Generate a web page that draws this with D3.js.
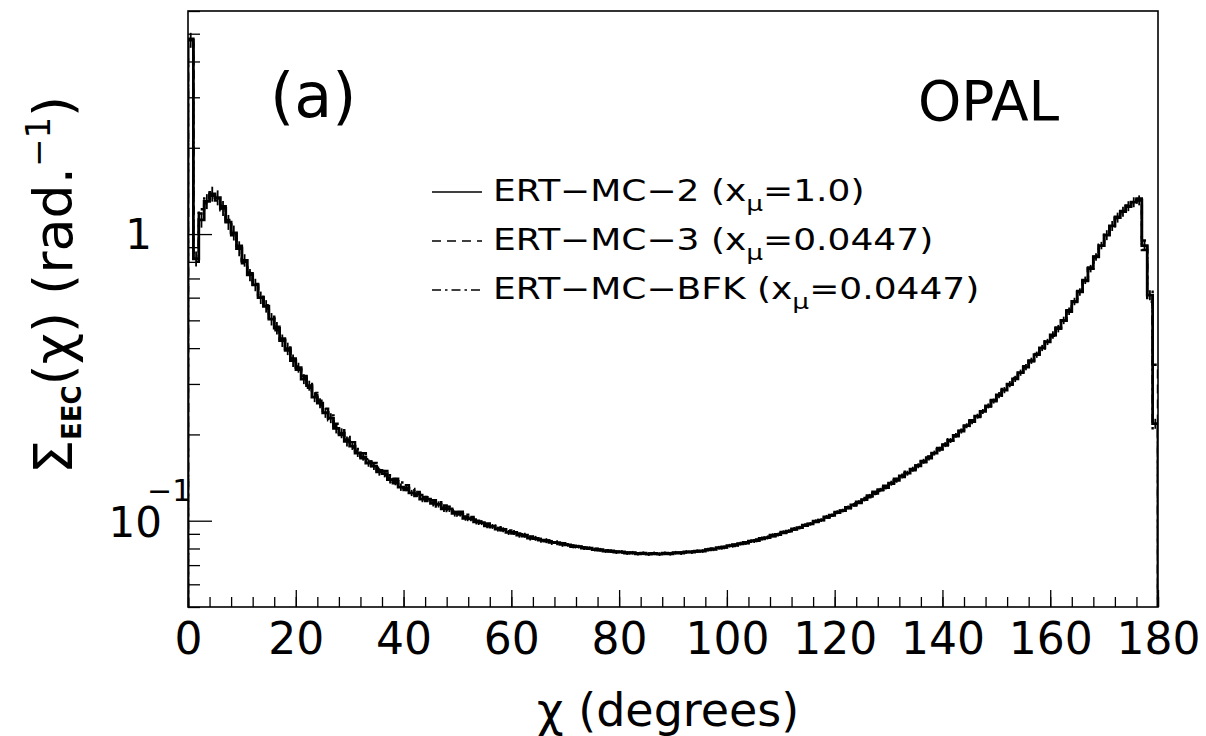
<!DOCTYPE html>
<html>
<head>
<meta charset="utf-8">
<script src="https://d3js.org/d3.v7.min.js"></script>
<style>
  body { margin: 0; background: #fff; }
  svg { display: block; font-family: "DejaVu Sans", sans-serif; }
</style>
</head>
<body>
<div id="chart"></div>
<script>
////////////////////////////// DATA ////////////////////////////////////

// EEC histograms, one value per 1 degree bin from chi = 0 to 180
const ertMc2 = [
  4.75, 0.82, 1.12, 1.30, 1.38, 1.34, 1.23, 1.10, 1.01, 0.89,
  0.81, 0.72, 0.665, 0.60, 0.56, 0.505, 0.47, 0.425, 0.398, 0.362,
  0.342, 0.312, 0.296, 0.270, 0.257, 0.238, 0.228, 0.210, 0.202, 0.189,
  0.182, 0.172, 0.167, 0.159, 0.155, 0.148, 0.146, 0.139, 0.137, 0.131,
  0.130, 0.125, 0.124, 0.119, 0.119, 0.115, 0.114, 0.110, 0.110, 0.106,
  0.1055, 0.102, 0.1015, 0.0990, 0.0985, 0.0960, 0.0955, 0.0935, 0.0930, 0.0910,
  0.0910, 0.0890, 0.0890, 0.0870, 0.0868, 0.0855, 0.0852, 0.0840, 0.0838, 0.0827,
  0.0824, 0.0813, 0.0812, 0.0802, 0.0802, 0.0793, 0.0792, 0.0784, 0.0784, 0.0777,
  0.0778, 0.0771, 0.0773, 0.0767, 0.0770, 0.0765, 0.0769, 0.0765, 0.0770, 0.0767,
  0.0773, 0.0771, 0.0778, 0.0777, 0.0783, 0.0784, 0.0793, 0.0795, 0.0805, 0.0807,
  0.0818, 0.0821, 0.0832, 0.0836, 0.0849, 0.0853, 0.0868, 0.0873, 0.0890, 0.0895,
  0.0912, 0.0920, 0.0937, 0.0946, 0.0965, 0.0975, 0.0996, 0.1005, 0.1032, 0.1045,
  0.1072, 0.1085, 0.1113, 0.1135, 0.1162, 0.1185, 0.1222, 0.1245, 0.1283, 0.1305,
  0.1352, 0.1384, 0.1433, 0.1465, 0.1513, 0.1555, 0.1612, 0.1655, 0.1722, 0.1775,
  0.1843, 0.1905, 0.1985, 0.2055, 0.2145, 0.2215, 0.2315, 0.2405, 0.2515, 0.2615,
  0.2745, 0.2855, 0.2995, 0.3125, 0.3285, 0.3435, 0.3615, 0.3795, 0.4005, 0.4205,
  0.4445, 0.468, 0.500, 0.538, 0.582, 0.628, 0.690, 0.758, 0.832, 0.912,
  0.992, 1.068, 1.142, 1.198, 1.252, 1.292, 1.312, 0.912, 0.612, 0.218
];

const ertMc3 = [
  4.70, 0.80, 1.18, 1.28, 1.40, 1.31, 1.25, 1.08, 1.02, 0.90,
  0.79, 0.735, 0.655, 0.61, 0.55, 0.515, 0.462, 0.432, 0.392, 0.368,
  0.336, 0.318, 0.291, 0.275, 0.253, 0.242, 0.224, 0.214, 0.199, 0.192,
  0.180, 0.175, 0.165, 0.161, 0.153, 0.150, 0.144, 0.141, 0.135, 0.133,
  0.128, 0.127, 0.122, 0.121, 0.117, 0.116, 0.112, 0.111, 0.108, 0.107,
  0.104, 0.1035, 0.1005, 0.1000, 0.0975, 0.0970, 0.0948, 0.0942, 0.0925, 0.0918,
  0.0902, 0.0898, 0.0882, 0.0878, 0.0864, 0.0860, 0.0847, 0.0845, 0.0834, 0.0831,
  0.0820, 0.0818, 0.0808, 0.0807, 0.0798, 0.0797, 0.0789, 0.0788, 0.0781, 0.0780,
  0.0775, 0.0775, 0.0770, 0.0771, 0.0767, 0.0769, 0.0766, 0.0768, 0.0767, 0.0770,
  0.0770, 0.0775, 0.0775, 0.0781, 0.0781, 0.0789, 0.0790, 0.0800, 0.0801, 0.0812,
  0.0814, 0.0826, 0.0828, 0.0842, 0.0845, 0.0860, 0.0862, 0.0880, 0.0882, 0.0903,
  0.0906, 0.0928, 0.0932, 0.0955, 0.0960, 0.0985, 0.0990, 0.1018, 0.1025, 0.1058,
  0.1065, 0.1100, 0.1105, 0.1148, 0.1152, 0.1200, 0.1208, 0.1262, 0.1270, 0.1325,
  0.1340, 0.1400, 0.1420, 0.1482, 0.1500, 0.1575, 0.1598, 0.1675, 0.1705, 0.1795,
  0.1830, 0.1925, 0.1970, 0.2075, 0.2130, 0.2240, 0.2300, 0.2430, 0.2500, 0.2640,
  0.2730, 0.2880, 0.2980, 0.3150, 0.3270, 0.3460, 0.3600, 0.3820, 0.3990, 0.4230,
  0.4420, 0.4720, 0.4980, 0.5420, 0.5790, 0.6330, 0.6860, 0.7640, 0.8280, 0.9180,
  0.9880, 1.075, 1.136, 1.205, 1.246, 1.300, 1.330, 0.950, 0.580, 0.350
];

const ertBfk = [
  4.80, 0.86, 1.22, 1.33, 1.36, 1.33, 1.21, 1.12, 0.99, 0.91,
  0.80, 0.73, 0.67, 0.605, 0.565, 0.51, 0.475, 0.43, 0.402, 0.370,
  0.345, 0.320, 0.300, 0.279, 0.262, 0.246, 0.233, 0.218, 0.207, 0.196,
  0.188, 0.178, 0.172, 0.164, 0.159, 0.153, 0.149, 0.144, 0.140, 0.136,
  0.133, 0.129, 0.126, 0.123, 0.121, 0.118, 0.116, 0.113, 0.112, 0.109,
  0.1075, 0.1050, 0.1030, 0.1010, 0.0995, 0.0978, 0.0962, 0.0950, 0.0935, 0.0925,
  0.0912, 0.0902, 0.0890, 0.0882, 0.0870, 0.0864, 0.0853, 0.0848, 0.0838, 0.0834,
  0.0825, 0.0820, 0.0812, 0.0808, 0.0801, 0.0798, 0.0791, 0.0789, 0.0783, 0.0781,
  0.0777, 0.0775, 0.0772, 0.0771, 0.0769, 0.0768, 0.0768, 0.0768, 0.0769, 0.0770,
  0.0772, 0.0774, 0.0777, 0.0780, 0.0784, 0.0787, 0.0792, 0.0796, 0.0802, 0.0807,
  0.0815, 0.0821, 0.0829, 0.0836, 0.0845, 0.0853, 0.0863, 0.0872, 0.0884, 0.0894,
  0.0907, 0.0918, 0.0932, 0.0945, 0.0960, 0.0974, 0.0991, 0.1006, 0.1025, 0.1042,
  0.1064, 0.1083, 0.1107, 0.1130, 0.1156, 0.1182, 0.1213, 0.1242, 0.1276, 0.1307,
  0.1345, 0.1382, 0.1425, 0.1466, 0.1513, 0.1558, 0.1610, 0.1660, 0.1718, 0.1777,
  0.1840, 0.1908, 0.1980, 0.2060, 0.2140, 0.2225, 0.2310, 0.2410, 0.2510, 0.2625,
  0.2740, 0.2865, 0.2990, 0.3130, 0.3280, 0.3440, 0.3610, 0.3800, 0.4000, 0.4215,
  0.4440, 0.4700, 0.4990, 0.5360, 0.5820, 0.6300, 0.6880, 0.7600, 0.8350, 0.9100,
  0.9950, 1.065, 1.150, 1.195, 1.258, 1.288, 1.318, 0.880, 0.630, 0.210
];

// relative statistical error of ERT-MC-2, one entry per 10 degree block
const relErr2 = [0.06, 0.05, 0.04, 0.03, 0.025, 0.02, 0.02, 0.015, 0.015,
                 0.015, 0.015, 0.015, 0.015, 0.02, 0.02, 0.025, 0.03, 0.04];

const xMajorTicks = [0, 20, 40, 60, 80, 100, 120, 140, 160, 180];
const yMinorTicks = [0.05, 0.06, 0.07, 0.08, 0.09, 0.2, 0.3, 0.4, 0.5, 0.6, 0.7, 0.8, 0.9, 2, 3, 4, 5, 6];

const series = [
  { name: "ERT\u2212MC\u22122 (x", sub: "\u03bc", tail: "=1.0)", values: ertMc2, dash: null, width: 2.8 },
  { name: "ERT\u2212MC\u22123 (x", sub: "\u03bc", tail: "=0.0447)", values: ertMc3, dash: "9,6", width: 2.4 },
  { name: "ERT\u2212MC\u2212BFK (x", sub: "\u03bc", tail: "=0.0447)", values: ertBfk, dash: "9,4,2.5,4", width: 2.4 }
];

////////////////////////////// SET UP ////////////////////////////////////

const width = 1206;
const height = 736;
const plot = { left: 188, right: 1158, top: 11, bottom: 607 };

const svg = d3.select("#chart")
  .append("svg")
  .attr("width", width)
  .attr("height", height);

const x = d3.scaleLinear().domain([0, 180]).range([plot.left, plot.right]);
const y = d3.scaleLog().domain([0.05, 6]).range([plot.bottom, plot.top]);

svg.append("clipPath").attr("id", "clip")
  .append("rect")
  .attr("x", plot.left).attr("y", plot.top)
  .attr("width", plot.right - plot.left)
  .attr("height", plot.bottom - plot.top);

////////////////////////////// AXES ////////////////////////////////////

// x ticks, pointing up inside the frame
svg.append("g")
  .attr("transform", `translate(0,${plot.bottom})`)
  .call(d3.axisBottom(x).tickValues(d3.range(0, 181, 4)).tickSize(-10).tickSizeOuter(0).tickFormat(""))
  .call((g) => g.select(".domain").remove());

svg.append("g")
  .attr("transform", `translate(0,${plot.bottom})`)
  .call(d3.axisBottom(x).tickValues(xMajorTicks).tickSize(-17).tickSizeOuter(0).tickPadding(16))
  .call((g) => g.select(".domain").remove())
  .call((g) => g.selectAll("text").attr("font-size", 44).attr("font-family", "DejaVu Sans").attr("fill", "#000"));

// y ticks, pointing right inside the frame
svg.append("g")
  .attr("transform", `translate(${plot.left},0)`)
  .call(d3.axisLeft(y).tickValues(yMinorTicks).tickSize(-12).tickSizeOuter(0).tickFormat(""))
  .call((g) => g.select(".domain").remove());

svg.append("g")
  .attr("transform", `translate(${plot.left},0)`)
  .call(d3.axisLeft(y).tickValues([0.1, 1]).tickSize(-24).tickSizeOuter(0).tickFormat(""))
  .call((g) => g.select(".domain").remove());

svg.selectAll(".tick line").attr("stroke", "#000").attr("stroke-width", 1.3);

// y tick labels
svg.append("text")
  .attr("x", 152).attr("y", y(1) + 15)
  .attr("text-anchor", "end")
  .attr("font-size", 42)
  .text("1");

svg.append("text")
  .attr("x", 162).attr("y", y(0.1) + 16)
  .attr("text-anchor", "end")
  .attr("font-size", 42)
  .text("10");

svg.append("text")
  .attr("x", 147).attr("y", y(0.1) - 20)
  .attr("font-size", 30)
  .text("\u22121");

////////////////////////////// HISTOGRAMS ////////////////////////////////////

function histPath(values) {
  let p = `M${x(0)},${plot.bottom}`;
  values.forEach((v, i) => {
    p += `V${y(v)}H${x(i + 1)}`;
  });
  p += `V${plot.bottom}`;
  return p;
}

const hist = svg.append("g").attr("clip-path", "url(#clip)");

series.forEach((s) => {
  hist.append("path")
    .attr("d", histPath(s.values))
    .attr("fill", "none")
    .attr("stroke", "#000")
    .attr("stroke-width", s.width)
    .attr("stroke-dasharray", s.dash);
});

// error crosses on ERT-MC-2
hist.selectAll(".err")
  .data(ertMc2)
  .join("line")
  .attr("class", "err")
  .attr("x1", (d, i) => x(i + 0.5))
  .attr("x2", (d, i) => x(i + 0.5))
  .attr("y1", (d, i) => y(d * (1 + relErr2[Math.floor(i / 10)])))
  .attr("y2", (d, i) => y(d * (1 - relErr2[Math.floor(i / 10)])))
  .attr("stroke", "#000")
  .attr("stroke-width", 1.8);

// frame
svg.append("rect")
  .attr("x", plot.left).attr("y", plot.top)
  .attr("width", plot.right - plot.left)
  .attr("height", plot.bottom - plot.top)
  .attr("fill", "none")
  .attr("stroke", "#000")
  .attr("stroke-width", 1.6);

////////////////////////////// LEGEND & LABELS ////////////////////////////////////

const legendRows = [201, 250, 299];

series.forEach((s, i) => {
  const yy = legendRows[i];
  svg.append("line")
    .attr("x1", 432).attr("x2", 482)
    .attr("y1", yy - 9).attr("y2", yy - 9)
    .attr("stroke", "#000")
    .attr("stroke-width", 1.5)
    .attr("stroke-dasharray", s.dash);

  // the original font is wide, so stretch the text horizontally
  const t = svg.append("text")
    .attr("transform", `translate(493,${yy}) scale(1.2,1)`)
    .attr("font-size", 30);
  t.append("tspan").text(s.name);
  t.append("tspan").attr("font-size", 22).attr("dy", 10).text(s.sub);
  t.append("tspan").attr("dy", -10).text(s.tail);
});

svg.append("text")
  .attr("x", 270).attr("y", 117)
  .attr("font-size", 62)
  .text("(a)");

svg.append("text")
  .attr("x", 918).attr("y", 120)
  .attr("font-size", 55)
  .text("OPAL");

// x axis title
svg.append("text")
  .attr("x", 537).attr("y", 726)
  .attr("font-size", 46)
  .text("\u03c7 (degrees)");

// y axis title
const yTitle = svg.append("text")
  .attr("transform", "translate(72,285) rotate(-90)")
  .attr("text-anchor", "middle")
  .attr("font-size", 54);
yTitle.append("tspan").text("\u03a3");
yTitle.append("tspan").attr("font-size", 26).attr("font-weight", "bold").attr("dy", 9).text("EEC");
yTitle.append("tspan").attr("dy", -9).text("(\u03c7) (rad.");
yTitle.append("tspan").attr("font-size", 34).attr("dy", -22).text("\u22121");
yTitle.append("tspan").attr("dy", 22).text(")");
</script>
</body>
</html>
